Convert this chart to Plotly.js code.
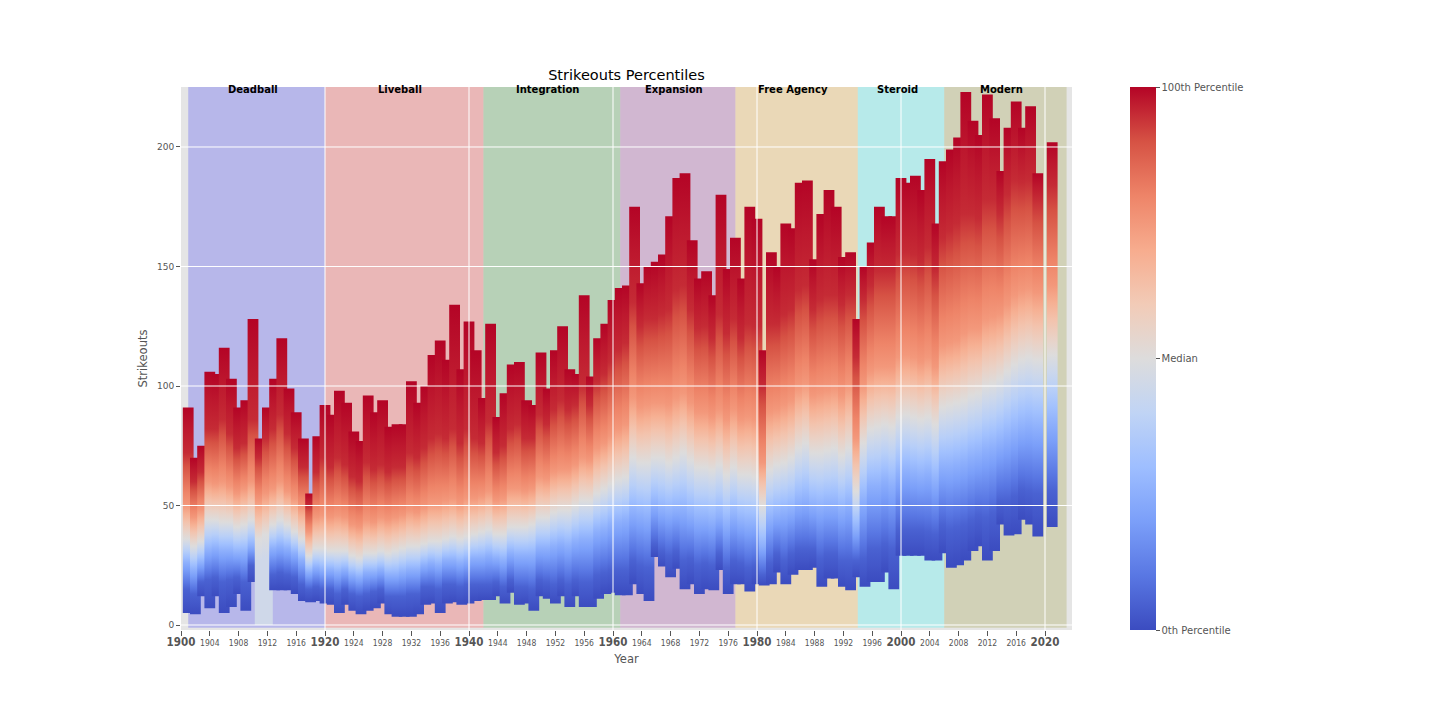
<!DOCTYPE html>
<html><head><meta charset="utf-8">
<script src="https://cdn.plot.ly/plotly-3.0.1.min.js"></script>
<style>html,body{margin:0;padding:0;background:#fff}#chart{width:1440px;height:720px}</style>
</head><body><div id="chart"></div>
<script>
// ---- data ----
const years = [1901,1902,1903,1904,1905,1906,1907,1908,1909,1910,
1911,1912,1913,1914,1915,1916,1917,1918,1919,1920,
1921,1922,1923,1924,1925,1926,1927,1928,1929,1930,
1931,1932,1933,1934,1935,1936,1937,1938,1939,1940,
1941,1942,1943,1944,1945,1946,1947,1948,1949,1950,
1951,1952,1953,1954,1955,1956,1957,1958,1959,1960,
1961,1962,1963,1964,1965,1966,1967,1968,1969,1970,
1971,1972,1973,1974,1975,1976,1977,1978,1979,1980,
1981,1982,1983,1984,1985,1986,1987,1988,1989,1990,
1991,1992,1993,1994,1995,1996,1997,1998,1999,2000,
2001,2002,2003,2004,2005,2006,2007,2008,2009,2010,
2011,2012,2013,2014,2015,2016,2017,2018,2019,2021];

const kMin = [5,4.5,12,7,12,5,7.5,13,6,18,
0,0,14.5,14.5,14.5,13,10,9.5,10,9,
8.5,5,8.5,6,4.5,6,7,9,4.5,3.5,
3.5,3.5,4.5,8.5,9,5,9,9.5,8.5,9,
10,10.5,10.5,12,9,13.5,8.5,9,6,12,
11,9,12,7.5,12,7.5,7.5,11,13,13.5,
12.5,12.5,17,13,10,28.5,24.5,20,23.5,15,
17,13,15,14.5,23,13,17,17,14,17,
16.5,17,22,17,21,23,23,24,16,19.5,
19.5,16,14.5,20,16,18,18,22,15,29,
29,29,29,27,27,30,24,25,27,31,
33,27,31,42,37.5,38,44,42,37,41];

const kP05 = [15,13,18,19,20,18,19,20,18,25,
0,0,21,22,21,20,17,15,16,15,
15,13,15,13,12,13,14,15,12,12,
12,13,13,16,16,15,17,17,16,17,
17,17,17,18,16,19,16,16,15,19,
18,17,19,17,19,18,18,21,22,23,
23,23,27,25,24,34,31,29,31,27,
28,25,26,25,30,24,27,26,24,25,
21,26,30,27,30,32,32,32,28,30,
30,27,27,27,28,32,32,34,32,40,
40,40,40,39,38,42,40,41,42,44,
46,45,47,52,52,54,57,56,55,56];

const kP25 = [26,23,26,31,32,31,31,30,30,33,
0,0,32,33,32,30,27,22,24,23,
23,22,23,21,20,22,22,23,21,21,
22,23,23,25,26,25,27,27,26,27,
28,28,29,28,27,30,29,29,29,32,
32,33,34,33,35,36,36,39,40,42,
43,44,47,46,45,50,48,47,48,48,
46,44,44,43,45,42,45,43,42,42,
33,44,46,47,48,51,52,50,49,50,
50,48,50,40,52,58,58,60,58,63,
64,63,62,63,60,66,66,67,68,70,
71,73,74,76,78,80,82,83,82,84];

const kMedian = [36,33,35,44,44,43,43,41,42,44,
36,38,42,44,42,39,36,29,32,32,
31,31,31,29,28,30,30,31,30,31,
32,33,33,34,35,35,36,37,36,37,
38,39,40,38,38,41,41,41,42,45,
45,47,48,48,50,52,52,55,57,59,
61,62,70,68,68,70,70,68,70,72,
69,66,66,65,67,63,66,63,63,62,
50,65,67,68,70,74,76,72,72,73,
74,71,74,56,76,82,83,84,83,87,
88,87,86,87,84,91,92,93,94,96,
97,100,101,103,106,109,111,112,111,113];

const kP75 = [50,45,48,60,59,60,58,55,57,60,
52,55,57,60,56,53,49,39,45,46,
45,46,45,42,41,44,43,45,44,45,
46,48,47,49,51,51,52,53,51,53,
53,54,56,52,53,57,57,56,57,62,
61,64,65,65,67,70,69,74,76,79,
82,84,95,91,92,93,93,92,95,97,
93,89,89,87,90,86,90,86,87,86,
68,89,90,92,94,99,101,96,97,98,
99,96,100,78,100,106,108,108,108,112,
113,112,110,112,108,117,118,119,122,124,
124,128,129,130,134,138,140,141,139,142];

const kP95 = [72,60,64,82,82,86,80,74,76,86,
70,78,82,88,80,74,66,50,64,70,
66,70,67,62,60,68,65,67,64,66,
66,72,70,74,78,80,78,82,76,82,
78,76,85,72,75,82,84,78,78,88,
84,90,94,90,92,100,92,102,105,110,
115,118,135,125,128,128,130,132,140,142,
132,124,125,120,130,122,128,120,126,125,
100,126,126,130,132,140,142,132,136,138,
138,134,138,112,136,142,148,148,148,155,
156,155,152,158,148,162,165,168,172,172,
170,178,178,172,180,186,185,186,178,184];

const kMax = [91,70,75,106,105,116,103,91,94,128,
78,91,103,120,99,89,78,55,79,92,
88,98,93,81,77,96,89,94,83,84,
84,102,93,100,113,119,111,134,107,127,
115,95,126,87,97,109,110,94,92,114,
99,115,125,107,105,138,104,120,126,136,
141,142,175,143,150,152,155,171,187,189,
161,145,148,138,180,149,162,145,175,170,
115,156,150,168,166,185,186,153,172,182,
175,154,156,128,150,160,175,171,171,187,
185,188,182,195,168,194,199,204,223,211,
205,222,212,190,208,219,208,217,189,202];

// share of players listed with 0 strikeouts (incomplete records)
const zeroShareYears = [1911, 1912];
const zeroShareValues = [0.45, 0.45];

const pctLevels = [0, 0.05, 0.25, 0.5, 0.75, 0.95, 1];

const eraNames = ['Deadball','Liveball','Integration','Expansion','Free Agency','Steroid','Modern'];
const eraStart = [1901, 1920, 1942, 1961, 1977, 1994, 2006];
const eraEnd   = [1920, 1942, 1961, 1977, 1994, 2006, 2023];

const xTickYears = [1900,1904,1908,1912,1916,1920,1924,1928,1932,1936,1940,1944,1948,1952,1956,
1960,1964,1968,1972,1976,1980,1984,1988,1992,1996,2000,2004,2008,2012,2016,2020];
const yTickValues = [0, 50, 100, 150, 200];
const cbTickLabels = ['0th Percentile', 'Median', '100th Percentile'];

// ---- styling ----
const eraColors = ['rgba(0,0,255,0.2)','rgba(255,0,0,0.2)','rgba(0,128,0,0.2)','rgba(128,0,128,0.2)',
  'rgba(255,165,0,0.2)','rgba(0,255,255,0.2)','rgba(128,128,0,0.2)'];
const cwHex = ['#3b4cc0','#5977e3','#7b9ff9','#9ebeff','#c0d4f5','#dddcdc','#f2cbb7','#f7ac8e','#ee8468','#d65244','#b40426'];
const cwRgb = cwHex.map(h => [parseInt(h.slice(1,3),16), parseInt(h.slice(3,5),16), parseInt(h.slice(5,7),16)]);
function coolwarm(t) {
  t = Math.max(0, Math.min(1, t));
  const s = t * 10, i = Math.min(9, Math.floor(s)), f = s - i;
  const a = cwRgb[i], b = cwRgb[i+1];
  return 'rgb(' + [0,1,2].map(k => Math.round(a[k] + (b[k]-a[k])*f)).join(',') + ')';
}
const FONT = 'DejaVu Sans, sans-serif';
const COND = 'DejaVu Sans Condensed, Liberation Sans Narrow, DejaVu Sans, sans-serif';
const halfW = 0.75;

const traces = [];
years.forEach((yr, i) => {
  const vals = [kMin[i], kP05[i], kP25[i], kMedian[i], kP75[i], kP95[i], kMax[i]];
  const zi = zeroShareYears.indexOf(yr);
  const z = zi >= 0 ? zeroShareValues[zi] : 0;
  const lo = vals[0], hi = vals[6], span = hi - lo;
  const stops = [];
  let prev = 0;
  for (let k = 0; k < 6; k++) {
    for (const t of [0, 0.25, 0.5, 0.75]) {
      let pos = (vals[k] + t*(vals[k+1]-vals[k]) - lo) / span;
      pos = Math.max(prev, Math.min(1, pos));
      prev = pos;
      let p = pctLevels[k] + t*(pctLevels[k+1]-pctLevels[k]);
      if (z > 0 && p < z) p = z;
      stops.push([pos, coolwarm(p)]);
    }
  }
  stops[0][0] = 0;
  stops.push([1, coolwarm(1)]);
  traces.push({
    type: 'scatter', mode: 'lines',
    x: [yr-halfW, yr+halfW, yr+halfW, yr-halfW, yr-halfW],
    y: [lo, lo, hi, hi, lo],
    fill: 'toself',
    line: {width: 0, color: 'rgba(0,0,0,0)'},
    fillgradient: {type: 'vertical', start: lo, stop: hi, colorscale: stops},
    hoverinfo: 'skip', showlegend: false
  });
});

// colorbar carrier
traces.push({
  type: 'scatter', mode: 'markers', x: [1950, 1950], y: [-50, -50],
  marker: {size: 1, color: [0, 1], cmin: 0, cmax: 1,
    colorscale: cwHex.map((c, i) => [i/10, c]), showscale: true,
    colorbar: {x: 1.0651, xanchor: 'left', xref: 'paper', xpad: 0, ypad: 0,
      y: 0.5, yanchor: 'middle', len: 1, lenmode: 'fraction',
      thickness: 26, thicknessmode: 'pixels', outlinewidth: 0,
      tickmode: 'array', tickvals: [0, 0.5, 1], ticktext: cbTickLabels,
      ticks: 'outside', ticklen: 4, tickcolor: '#555',
      tickfont: {family: FONT, size: 10, color: '#555'}}},
  hoverinfo: 'skip', showlegend: false
});

const shapes = [];
eraNames.forEach((n, i) => {
  shapes.push({type: 'rect', layer: 'below', xref: 'x', yref: 'y',
    x0: eraStart[i], x1: eraEnd[i], y0: -1.2, y1: 240,
    fillcolor: eraColors[i], line: {width: 0}});
});
yTickValues.forEach(v => shapes.push({type: 'line', layer: 'above', xref: 'paper', yref: 'y',
  x0: 0, x1: 1, y0: v, y1: v, line: {color: '#ffffff', width: 1}}));
xTickYears.filter(v => v % 20 === 0 && v > 1900).forEach(v => shapes.push({type: 'line', layer: 'above',
  xref: 'x', yref: 'paper', x0: v, x1: v, y0: 0, y1: 1, line: {color: '#ffffff', width: 1}}));

const annotations = eraNames.map((n, i) => ({
  text: '<b>' + n + '</b>', xref: 'x', yref: 'paper',
  x: (eraStart[i] + eraEnd[i]) / 2, y: 1, xanchor: 'center', yanchor: 'middle',
  xshift: -4, yshift: -2, showarrow: false,
  font: {family: FONT, size: 10, color: '#000'}
}));

const xTickText = xTickYears.map(v => v % 20 === 0
  ? '<span style="font-size:11.5px;font-weight:bold">' + v + '</span>' : String(v));

const layout = {
  width: 1440, height: 720,
  margin: {l: 181, r: 368, t: 87, b: 90, pad: 0},
  paper_bgcolor: '#ffffff', plot_bgcolor: '#e5e5e5',
  showlegend: false,
  title: {text: 'Strikeouts Percentiles', font: {family: FONT, size: 14.5, color: '#000'},
    x: 0.5, xref: 'paper', xanchor: 'center', y: 1 - 75/720, yref: 'container', yanchor: 'middle'},
  xaxis: {range: [1900, 2023.75], tickmode: 'array', tickvals: xTickYears, ticktext: xTickText,
    ticks: 'outside', ticklen: 5, tickcolor: '#555', tickwidth: 1,
    showgrid: false, zeroline: false, showline: false, automargin: false,
    tickfont: {family: COND, size: 8.5, color: '#555'},
    title: {text: 'Year', font: {family: FONT, size: 11.5, color: '#555'}, standoff: 6}},
  yaxis: {range: [-2.09, 225.1], tickmode: 'array', tickvals: yTickValues,
    ticks: 'outside', ticklen: 4, tickcolor: '#555', tickwidth: 1,
    showgrid: false, zeroline: false, showline: false, automargin: false,
    tickfont: {family: FONT, size: 9, color: '#555'},
    title: {text: 'Strikeouts', font: {family: FONT, size: 11.5, color: '#555'}, standoff: 6}},
  shapes: shapes,
  annotations: annotations
};

Plotly.newPlot('chart', traces, layout, {displayModeBar: false, staticPlot: true});
</script>
</body></html>
